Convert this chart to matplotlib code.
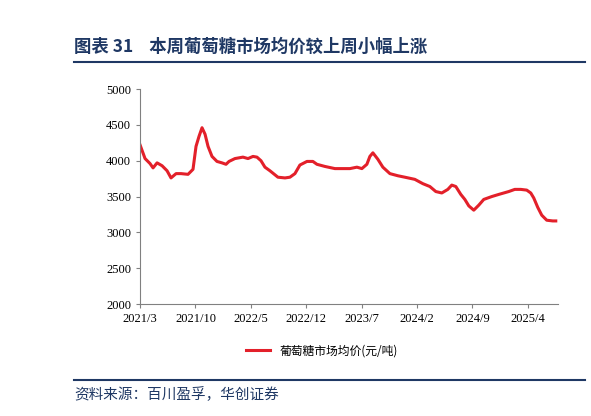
import matplotlib
matplotlib.use("Agg")
import matplotlib.pyplot as plt
from matplotlib.lines import Line2D

months = [0,0.63,1.26,1.64,2.15,2.78,3.41,3.91,4.55,5.18,6.06,6.69,7.07,7.45,7.83,8.21,8.59,9.09,9.72,10.35,10.86,11.24,11.99,13.0,13.64,14.27,14.77,15.28,15.78,16.41,17.42,18.31,18.94,19.57,20.2,21.09,21.84,22.35,23.36,24.62,25.88,26.52,27.4,28.03,28.66,29.04,29.42,30.05,30.68,31.57,32.58,33.46,34.72,35.73,36.62,37.37,38.13,38.89,39.39,39.9,40.53,41.04,41.54,42.17,42.8,43.43,44.44,45.33,45.96,46.59,47.35,48.11,48.86,49.37,49.75,50.25,50.76,51.39,52.15,52.53]
price = [4220,4030,3960,3900,3970,3930,3860,3760,3820,3820,3810,3880,4200,4340,4460,4370,4200,4060,3990,3970,3950,3990,4030,4050,4030,4060,4050,4000,3910,3860,3770,3760,3770,3820,3940,3990,3990,3950,3920,3890,3890,3890,3910,3890,3950,4060,4110,4020,3910,3820,3790,3770,3740,3680,3640,3570,3550,3600,3660,3640,3530,3460,3370,3310,3380,3460,3500,3530,3550,3570,3600,3600,3590,3550,3480,3350,3240,3170,3160,3160]
tick_pos = [0,7,14,21,28,35,42,49]
tick_labels = ["2021/3","2021/10","2022/5","2022/12","2023/7","2024/2","2024/9","2025/4"]

cjk = ['Noto Sans CJK SC', 'DejaVu Sans']
serif = 'Liberation Serif'
navy = '#1f3864'

fig = plt.figure(figsize=(5.91, 4.16), dpi=100)
ax = fig.add_axes([0.237, 0.269, 0.707, 0.517])
ax.plot(months, price, color='#e3202a', lw=2.2)
ax.set_xlim(0, 52.8)
ax.set_ylim(2000, 5000)
ax.set_yticks(range(2000, 5001, 500))
ax.set_xticks(tick_pos)
ax.set_xticklabels(tick_labels)
for s in ['top', 'right']:
    ax.spines[s].set_visible(False)
for s in ['left', 'bottom']:
    ax.spines[s].set_color('#808080')
ax.tick_params(labelsize=9, colors='black', length=3, color='#808080')
for lab in ax.get_xticklabels() + ax.get_yticklabels():
    lab.set_family(serif)

h = Line2D([], [], color='#e3202a', lw=2.2)
fig.legend([h], ['葡萄糖市场均价(元/吨)'], loc='center', bbox_to_anchor=(0.545, 0.157),
           frameon=False, prop={'family': cjk, 'size': 8.5})

fig.text(0.125, 0.888, '图表 31    本周葡萄糖市场均价较上周小幅上涨', family=cjk,
         fontsize=12.5, fontweight='bold', color=navy, va='center')
fig.add_artist(Line2D([0.125, 0.99], [0.85, 0.85], color=navy, lw=1.5))
fig.add_artist(Line2D([0.125, 0.99], [0.087, 0.087], color=navy, lw=1.5))
fig.text(0.125, 0.052, '资料来源：百川盈孚，华创证券', family=cjk, fontsize=10.5,
         style='italic', color=navy, va='center')
fig.savefig('out.png', dpi=100)
